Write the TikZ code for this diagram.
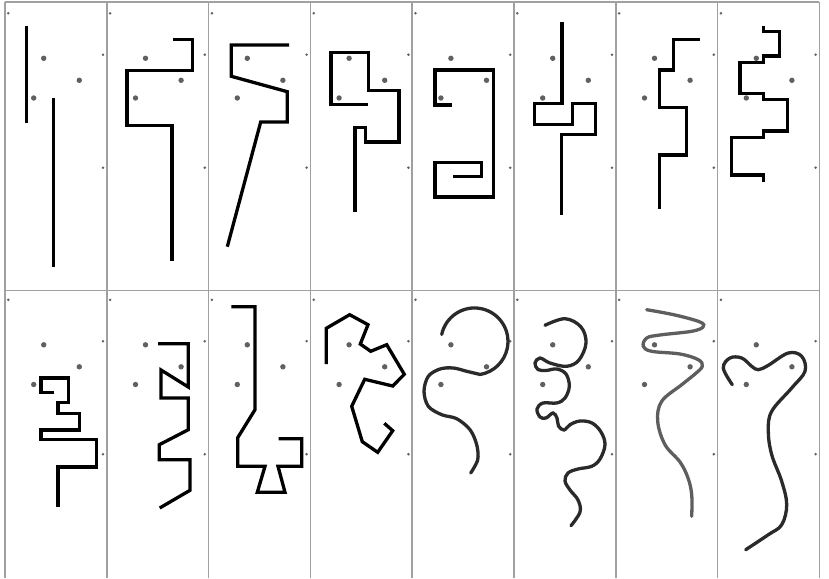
\documentclass[tikz,border=0pt]{standalone}
\usepackage{tikz}
\definecolor{gridgray}{HTML}{A0A0A0}
\definecolor{dotgray}{HTML}{606060}
\definecolor{strokedark}{HTML}{2A2A2A}
\definecolor{strokegray}{HTML}{5E5E5E}
\tikzset{
  gridline/.style={draw=gridgray, line width=1.5pt},
  stroke/.style={draw=black, line width=3.3pt, line join=miter},
  curvestroke/.style={draw=strokedark, line width=3.3pt, line cap=round},
  bigdot/.style={fill=dotgray},
  smalldot/.style={fill=dotgray}
}
\begin{document}
\begin{tikzpicture}[x=1pt,y=-1pt]
\useasboundingbox (0,0) rectangle (829,578);
\fill[white] (0,0) rectangle (829,578);
% grid
\foreach \i in {0,...,8} {
  \draw[gridline] ({5+101.8*\i},2) -- ({5+101.8*\i},578);
}
\draw[gridline] (5,2) -- (819.4,2);
\draw[gridline] (5,290.7) -- (819.4,290.7);
% dots
\foreach \r in {0,286.5} {
  \foreach \i in {0,...,7} {
    \pgfmathsetmacro{\L}{5+101.8*\i}
    \fill[smalldot] (\L+3.3,13.3+\r) circle (1.4);
    \fill[smalldot] (\L+98,54.7+\r) circle (1.4);
    \fill[smalldot] (\L+98,167.7+\r) circle (1.4);
    \fill[bigdot] (\L+38.7,58.3+\r) circle (2.7);
    \fill[bigdot] (\L+74.3,80.3+\r) circle (2.7);
    \fill[bigdot] (\L+28.7,98+\r) circle (2.7);
  }
}
% ---- top row ----
% cell 1
\draw[stroke] (26.7,26) -- (26.7,123.3);
\draw[stroke] (53.7,97.7) -- (53.7,266.7);
% cell 2
\draw[stroke] (172.7,39.3) -- (192.7,39.3) -- (192.7,70.3) -- (127,70.3) -- (127,125.3) -- (172,125.3) -- (172,260.7);
% cell 3
\draw[stroke] (289,45) -- (231.3,45) -- (231.3,76.3) -- (287.3,91.7) -- (287.3,122) -- (260.7,122) -- (227.3,246.7);
% cell 4
\draw[stroke] (368.3,104.7) -- (331,104.7) -- (331,52.3) -- (368.7,52.3) -- (368.7,90.3) -- (399,90.3) -- (399,142) -- (365.3,142) -- (365.3,127.7) -- (355,127.7) -- (355,212.3);
% cell 5
\draw[stroke] (452,105) -- (435,105) -- (435,70) -- (493.7,70) -- (493.7,197) -- (435,197) -- (435,162.3) -- (481.3,162.3) -- (481.3,176.3) -- (453.3,176.3);
% cell 6
\draw[stroke] (562,22.3) -- (562,103.7) -- (534.3,103.7) -- (534.3,124.3) -- (572.7,124.3) -- (572.7,103.7) -- (595.7,103.7) -- (595.7,134.3) -- (561.7,134.3) -- (561.7,215.3);
% cell 7
\draw[stroke] (700,39.3) -- (673.3,39.3) -- (673.3,70) -- (659.3,70) -- (659.3,107.7) -- (686.3,107.7) -- (686.3,155) -- (659.3,155) -- (659.3,209.3);
% cell 8
\draw[stroke] (763.7,26) -- (763.7,31.7) -- (779.3,31.7) -- (779.3,56) -- (763.7,56) -- (763.7,62.7) -- (740,62.7) -- (740,93.3) -- (763.7,93.3) -- (763.7,99.7) -- (787.3,99.7) -- (787.3,131) -- (763.7,131) -- (763.7,137.3) -- (731.7,137.3) -- (731.7,175) -- (763.7,175) -- (763.7,181.7);
% ---- bottom row ----
% cell 9
\draw[stroke] (54,392.3) -- (41,392.3) -- (41,378) -- (68.7,378) -- (68.7,402.3) -- (58,402.3) -- (58,413.3) -- (79.3,413.3) -- (79.3,430) -- (41,430) -- (41,439.7) -- (96.3,439.7) -- (96.3,467) -- (58,467) -- (58,507.3);
% cell 10
\draw[stroke] (158,343.7) -- (188.3,343.7) -- (188.3,387) -- (161,370) -- (161,398) -- (188.3,398) -- (188.3,429.7) -- (159.3,444.7) -- (159.3,459.7) -- (190,459.7) -- (190,490.3) -- (159.7,508);
% cell 11
\draw[stroke] (231.3,306.7) -- (255,306.7) -- (255,409.7) -- (237.7,437.7) -- (237.7,466.3) -- (265,466.3) -- (257.3,492.3) -- (285,492.3) -- (278,466.3) -- (301.7,466.3) -- (301.7,438.7) -- (278.7,438.7);
% cell 12
\draw[stroke] (326.3,364) -- (326.3,328.3) -- (349.7,314.7) -- (368,324.7) -- (360.3,344) -- (370.7,351.3) -- (386.7,344.7) -- (404.3,374.3) -- (392.7,386) -- (364.7,379.3) -- (351.7,406.3) -- (362.3,441.7) -- (377.7,452.3) -- (392.7,430.7) -- (384.3,423.3);
% cell 13
\draw[curvestroke] (441.7,334.5) arc[start angle=-168, end angle=80, radius=33.5];
\draw[curvestroke] plot[smooth, tension=0.55] coordinates {
 (480.3,374.5) (466.7,371.3) (453.3,368) (440,369) (428.3,376.3) (424,391.3) (428.3,406.3) (441.7,414.7) (456.7,418.7) (470,429.7) (476.7,444.7) (477.7,459.7) (470.7,473)};
% cell 14
\draw[curvestroke] plot[smooth, tension=0.6] coordinates {
 (545,325.3) (565,318.7) (581,327) (586,343) (579,360) (566.7,366.3) (550,363) (540,358) (535,363) (538,369.5) (546,370.5) (556.7,369) (566,374) (569.3,386.3) (565,398) (556.7,403) (543,403) (537,409) (540,417) (546,418) (553,413) (557,418) (558.5,426) (564,430) (570,424.7) (580,421) (592,423) (601,432) (605,444.7) (600,459) (591.7,466.3) (578,469) (568,473) (565,481) (570,490) (578,500) (580,512) (571,525.7)};
% cell 15
\draw[curvestroke, draw=strokegray] plot[smooth, tension=0.6] coordinates {
 (646.7,309.7) (675,315) (700,322) (703,327) (691.7,331.3) (660,335) (646.7,338) (643.3,346.3) (651.7,351.3) (680,354) (698.3,359.7) (702.3,366.3) (695,374) (681.7,384.7) (661.7,401.3) (657.7,421.3) (665,444.7) (680,462) (688,478) (691.7,494.7) (691.7,516.3)};
% cell 16
\draw[curvestroke] plot[smooth, tension=0.6] coordinates {
 (732.3,384.7) (723.3,368) (730,358) (741.7,358) (751.7,366.3) (758.3,369.7) (768.3,365.3) (788.3,353) (801.7,356.3) (805,371.3) (791.7,388) (771.7,411.3) (768.3,431.3) (771.7,454.7) (781.7,481.3) (786.7,504.7) (781.7,524.7) (768.3,534.7) (745.7,549.7)};
\end{tikzpicture}
\end{document}
